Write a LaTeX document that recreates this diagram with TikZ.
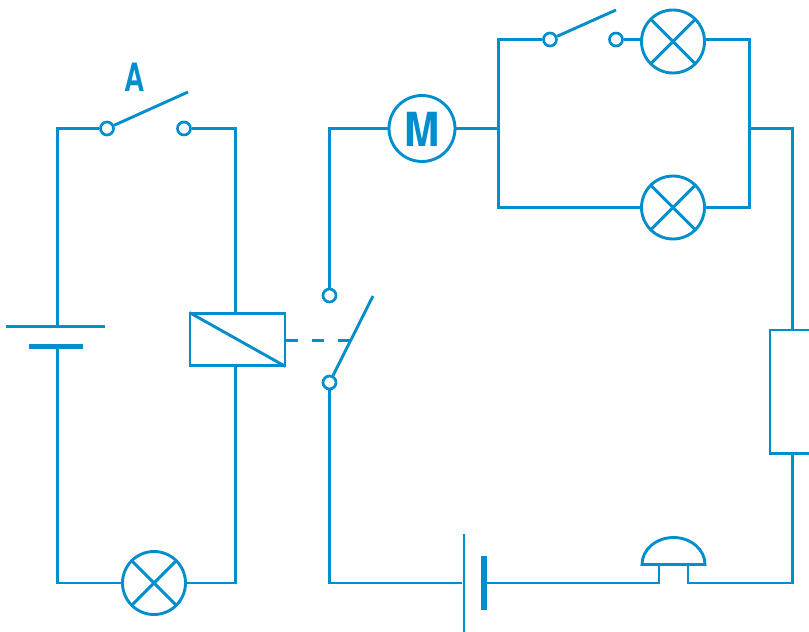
\documentclass[tikz,border=0pt]{standalone}
\usepackage{fontspec}
\setsansfont{TeX Gyre Heros}
\definecolor{wireblue}{RGB}{0,142,204}
\tikzset{
  wire/.style={draw=wireblue,line width=2.9pt},
  terminal/.style={circle,draw=wireblue,fill=white,line width=2.7pt,minimum size=13pt,inner sep=0pt},
  lampnode/.style={circle,draw=wireblue,line width=2.9pt,minimum size=63pt,inner sep=0pt,
    path picture={\draw[wireblue,line width=2.9pt] (path picture bounding box.north west)--(path picture bounding box.south east);
      \draw[wireblue,line width=2.9pt] (path picture bounding box.north east)--(path picture bounding box.south west);}},
  boxnode/.style={rectangle,draw=wireblue,line width=2.9pt,inner sep=0pt},
  plate/.style={rectangle,fill=wireblue,inner sep=0pt},
  lettertext/.style={text=wireblue,inner sep=0pt}
}
\begin{document}
\begin{tikzpicture}[x=1pt,y=-1pt]
            \useasboundingbox (0,0) rectangle (809,632);
            \clip (0,0) rectangle (809,632);
            \node[plate,minimum width=99pt,minimum height=2.9pt] (longplateA) at (55.5,326.5) {};
            \node[plate,minimum width=54pt,minimum height=5.4pt] (shortplateA) at (56,346.5) {};
            \node[plate,minimum width=2.9pt,minimum height=98pt] (longplateB) at (464,583) {};
            \node[plate,minimum width=5.4pt,minimum height=54pt] (shortplateB) at (484,583) {};
            \node[terminal] (switchAleft) at (107,128.5) {};
            \node[terminal] (switchAright) at (184,128.5) {};
            \node[lettertext,xscale=0.72,font=\sffamily\bfseries\fontsize{39}{39}\selectfont] (labelA) at (134.5,77) {A};
            \node[terminal] (relaytop) at (329.5,295.5) {};
            \node[terminal] (relaybottom) at (329.5,382.5) {};
            \node[terminal] (switchBleft) at (550,39.5) {};
            \node[terminal] (switchBright) at (616,39.5) {};
            \node[boxnode,minimum width=95pt,minimum height=52pt] (relay) at (237.5,339.5) {};
            \node[boxnode,minimum width=80pt,minimum height=123.5pt,anchor=north west] (resistor) at (768.5,328.5) {};
            \node[lampnode] (lampA) at (154,583) {};
            \node[lampnode] (lampB) at (673,41.5) {};
            \node[lampnode] (lampC) at (673,207.5) {};
            \node[circle,draw=wireblue,line width=2.9pt,minimum size=66pt,inner sep=0pt] (motor) at (422,128.5) {};
            \node[lettertext,xscale=0.9,font=\sffamily\bfseries\fontsize{47}{47}\selectfont] (labelM) at (422,129.5) {M};
            \coordinate (cornerA) at (57.5,128.5);
            \coordinate (batterytop) at (57.5,326.5);
            \coordinate (batterybottom) at (57.5,346.5);
            \coordinate (cornerB) at (57.5,583);
            \coordinate (relayin) at (235.5,313.5);
            \coordinate (relayout) at (235.5,365.5);
            \coordinate (cornerC) at (235.5,128.5);
            \coordinate (cornerD) at (235.5,583);
            \coordinate (cornerE) at (329.5,583);
            \coordinate (branchL) at (498.5,128.5);
            \coordinate (branchR) at (749.5,128.5);
            \coordinate (cornerF) at (498.5,39.5);
            \coordinate (cornerG) at (749.5,39.5);
            \coordinate (cornerH) at (498.5,207.5);
            \coordinate (cornerI) at (749.5,207.5);
            \coordinate (cornerJ) at (792.5,128.5);
            \coordinate (cornerK) at (792.5,583);
            \coordinate (resistortop) at (792.5,328.5);
            \coordinate (resistorbottom) at (792.5,452);
            \coordinate (buzzerL) at (659,564.5);
            \coordinate (buzzerR) at (688,564.5);
            \coordinate (footL) at (659,583);
            \coordinate (footR) at (688,583);
            \coordinate (domeL) at (642,564.5);
            \coordinate (domeR) at (705,564.5);
            \coordinate (bladeA) at (188,92);
            \coordinate (bladeB) at (373,296);
            \coordinate (bladeC) at (616,10);
            \coordinate (dashstart) at (286,340.5);
            \coordinate (dashend) at (350,340.5);
            \draw[wire] (switchAleft)--(cornerA)--(batterytop);
            \draw[wire] (batterybottom)--(cornerB)--(lampA);
            \draw[wire] (lampA)--(cornerD)--(relayout);
            \draw[wire] (relayin)--(cornerC)--(switchAright);
            \draw[wire] (switchAleft)--(bladeA);
            \draw[wire] (relaytop)|-(motor);
            \draw[wire] (motor)--(branchL);
            \draw[wire] (relaybottom)--(cornerE)--(longplateB);
            \draw[wire] (relaybottom)--(bladeB);
            \draw[wire,dash pattern=on 12pt off 14pt] (dashstart)--(dashend);
            \draw[wire,shorten >=1pt,shorten <=1pt] (relay.north west)--(relay.south east);
            \draw[wire] (switchBleft)--(cornerF)--(cornerH)--(lampC);
            \draw[wire] (switchBleft)--(bladeC);
            \draw[wire] (switchBright)--(lampB.west|-switchBright);
            \draw[wire] (lampB.east|-switchBright)--(cornerG)--(cornerI)--(lampC);
            \draw[wire] (branchR)--(cornerJ)--(resistortop);
            \draw[wire] (resistorbottom)--(cornerK)--(footR)--(buzzerR);
            \draw[wire] (shortplateB)--(footL)--(buzzerL);
            \draw[wire] (domeL) arc (180:360:31.5 and 27)--cycle;
\end{tikzpicture}
\end{document}
